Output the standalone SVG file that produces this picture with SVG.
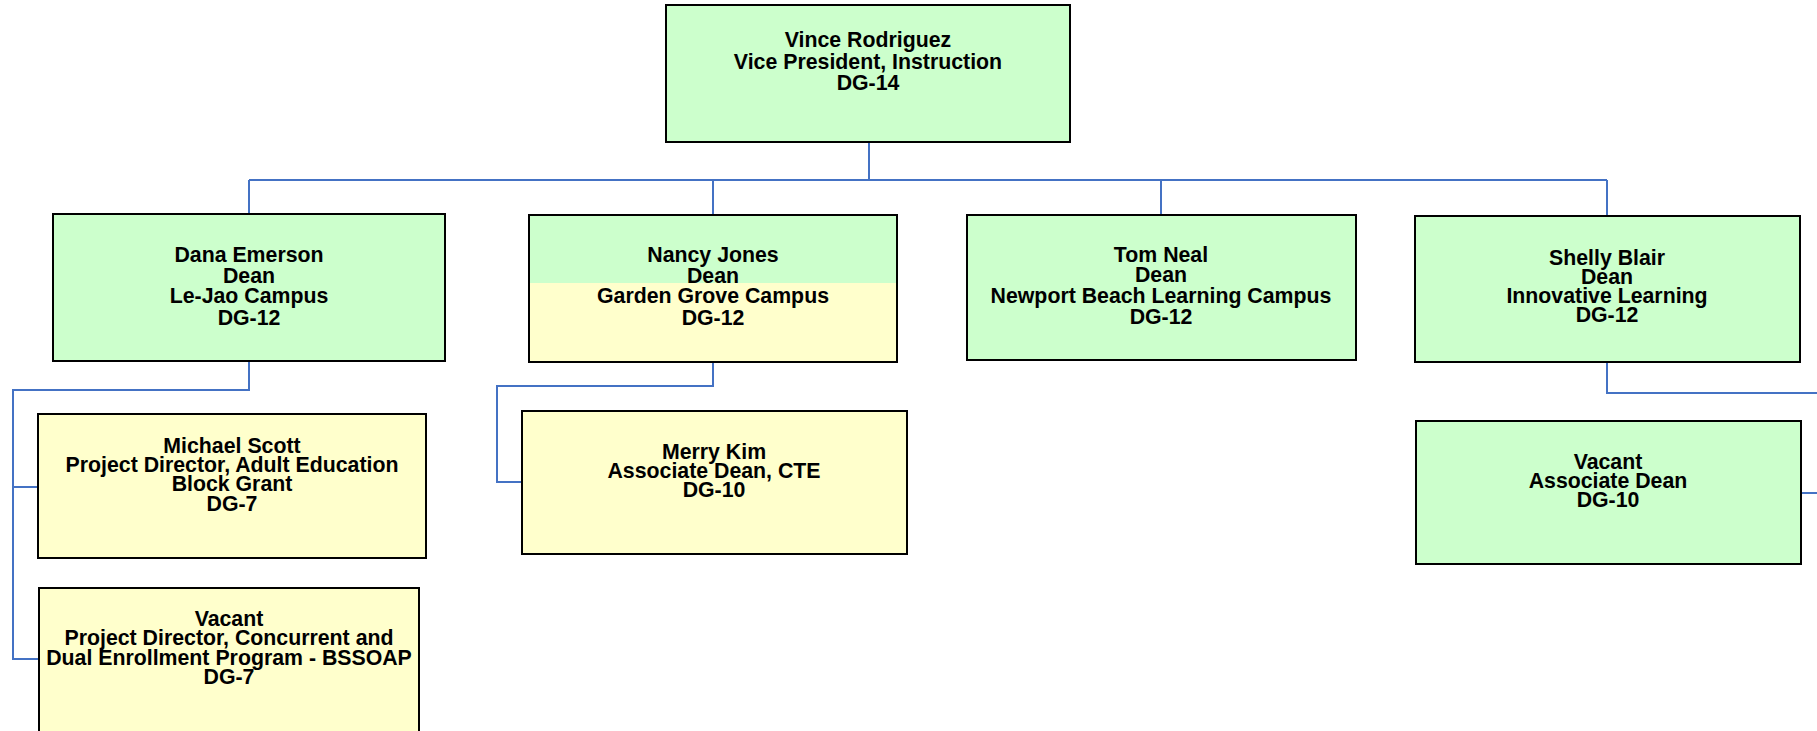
<svg xmlns="http://www.w3.org/2000/svg" width="1817" height="731" viewBox="0 0 1817 731">
<style>
.bx{stroke:#000;stroke-width:2}
.g{fill:#CCFFCC}
.y{fill:#FFFFCC}
.c{fill:none;stroke:#4472C4;stroke-width:2}
text{font-family:"Liberation Sans",Arial,sans-serif;font-weight:bold;font-size:21.3px;fill:#000;text-anchor:middle}
</style>
<rect width="1817" height="731" fill="#fff"/>
<g id="connectors">
<path class="c" d="M869 142V180M249 180H1607M249 180V214M713 180V215M1161 180V215M1607 180V216"/>
<path class="c" d="M249 361V390H13V659H39M13 487H38"/>
<path class="c" d="M713 362V386H497V482H522"/>
<path class="c" d="M1607 362V393H1830M1817 493H1801"/>
</g>
<g id="vince">
<rect class="bx g" x="666" y="5" width="404" height="137"/>
<text x="868" y="47">Vince Rodriguez</text>
<text x="868" y="68.5">Vice President, Instruction</text>
<text x="868" y="90">DG-14</text>
</g>
<g id="dana">
<rect class="bx g" x="53" y="214" width="392" height="147"/>
<text x="249" y="262">Dana Emerson</text>
<text x="249" y="282.5">Dean</text>
<text x="249" y="303">Le-Jao Campus</text>
<text x="249" y="324.5">DG-12</text>
</g>
<g id="nancy">
<rect class="g" x="529" y="215" width="368" height="68"/>
<rect class="y" x="529" y="283" width="368" height="79"/>
<rect class="bx" fill="none" x="529" y="215" width="368" height="147"/>
<text x="713" y="262">Nancy Jones</text>
<text x="713" y="282.5">Dean</text>
<text x="713" y="303">Garden Grove Campus</text>
<text x="713" y="324.5">DG-12</text>
</g>
<g id="tom">
<rect class="bx g" x="967" y="215" width="389" height="145"/>
<text x="1161" y="261.5">Tom Neal</text>
<text x="1161" y="282">Dean</text>
<text x="1161" y="303">Newport Beach Learning Campus</text>
<text x="1161" y="324">DG-12</text>
</g>
<g id="shelly">
<rect class="bx g" x="1415" y="216" width="385" height="146"/>
<text x="1607" y="265">Shelly Blair</text>
<text x="1607" y="284">Dean</text>
<text x="1607" y="303">Innovative Learning</text>
<text x="1607" y="322">DG-12</text>
</g>
<g id="michael">
<rect class="bx y" x="38" y="414" width="388" height="144"/>
<text x="232" y="452.5">Michael Scott</text>
<text x="232" y="471.5">Project Director, Adult Education</text>
<text x="232" y="490.5">Block Grant</text>
<text x="232" y="510.5">DG-7</text>
</g>
<g id="vacant-pd">
<rect class="bx y" x="39" y="588" width="380" height="160"/>
<text x="229" y="626">Vacant</text>
<text x="229" y="645">Project Director, Concurrent and</text>
<text x="229" y="664.5">Dual Enrollment Program - BSSOAP</text>
<text x="229" y="683.5">DG-7</text>
</g>
<g id="merry">
<rect class="bx y" x="522" y="411" width="385" height="143"/>
<text x="714" y="459">Merry Kim</text>
<text x="714" y="478">Associate Dean, CTE</text>
<text x="714" y="497">DG-10</text>
</g>
<g id="vacant-ad">
<rect class="bx g" x="1416" y="421" width="385" height="143"/>
<text x="1608" y="468.5">Vacant</text>
<text x="1608" y="487.5">Associate Dean</text>
<text x="1608" y="506.5">DG-10</text>
</g>
</svg>
